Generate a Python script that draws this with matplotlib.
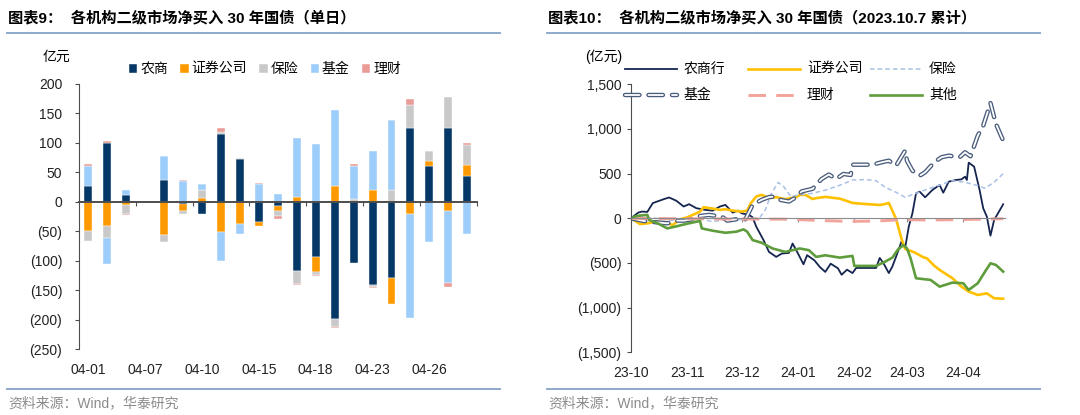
import matplotlib
matplotlib.use("Agg")
import matplotlib.pyplot as plt
import matplotlib.dates as mdates
import matplotlib.patheffects as pe
from matplotlib.lines import Line2D
from matplotlib.ticker import FuncFormatter
import numpy as np

plt.rcParams["font.family"] = ["Liberation Sans", "Noto Sans CJK SC"]

# --------------------------------------------------------------------------- #
# left panel: daily net buying by institution (100m CNY)
# --------------------------------------------------------------------------- #
days = ["04-01", "04-02", "04-03", "04-07", "04-08", "04-09", "04-10", "04-11",
        "04-12", "04-15", "04-16", "04-17", "04-18", "04-19", "04-22", "04-23",
        "04-24", "04-25", "04-26", "04-28", "04-29"]
bar_names = ["农商", "证券公司", "保险", "基金", "理财"]
d_nongshang = [26, 100, 12, 0, 36.5, -3, -20, 115, 73, -35, -7, -118, -93, -199,
               -104, -141.5, -129, 125, 60, 125, 44]
d_zhengquan = [-49, -41, -5, 0, -56, -12.7, 6, -50.5, -37, -6, -8.5, 8.5, -26, 26,
               0, 19.7, -45, -21, 10, -15, 18]
d_baoxian = [-17, -21, -16, 0, -11.5, -5.6, 13.5, 4, 2, 0, -9.5, -22, -4.5, -13,
             5.5, -3.5, 19.7, 38.5, 15.4, 53.5, 35]
d_jijin = [35, -43, 8, 0, 40.5, 35, 10.5, -49.5, -17, 30, 13, 99, 98, 130, 55,
           65.7, 119.5, -177, -68.5, -123.5, -55]
d_licai = [2.5, 3.5, -2, -1, 0, 1.5, 0, 6, 0, 2, -3.5, -1.5, -2, -2, 4, -2, 0,
           11.5, 1, -6, 3]
bar_colors = ["#053866", "#FF9900", "#C9C9C9", "#9DCDFA", "#EC9C96"]

# --------------------------------------------------------------------------- #
# right panel: cumulative net buying since 2023-10-07 (100m CNY)
# --------------------------------------------------------------------------- #
nsh_dates = ["2023-10-07", "2023-10-11", "2023-10-13", "2023-10-16", "2023-10-19",
             "2023-10-25", "2023-10-28", "2023-11-01", "2023-11-05", "2023-11-08",
             "2023-11-12", "2023-11-17", "2023-11-21", "2023-11-25", "2023-11-28",
             "2023-12-02", "2023-12-05", "2023-12-07", "2023-12-11", "2023-12-13",
             "2023-12-15", "2023-12-19", "2023-12-22", "2023-12-26", "2023-12-29",
             "2024-01-02", "2024-01-04", "2024-01-07", "2024-01-10", "2024-01-12",
             "2024-01-16", "2024-01-19", "2024-01-22", "2024-01-25", "2024-01-29",
             "2024-01-31", "2024-02-03", "2024-02-06", "2024-02-08", "2024-02-19",
             "2024-02-21", "2024-02-23", "2024-02-26", "2024-02-28", "2024-03-01",
             "2024-03-04", "2024-03-06", "2024-03-08", "2024-03-10", "2024-03-12",
             "2024-03-14", "2024-03-17", "2024-03-21", "2024-03-25", "2024-03-27",
             "2024-03-30", "2024-04-03", "2024-04-06", "2024-04-08", "2024-04-09",
             "2024-04-10", "2024-04-13", "2024-04-16", "2024-04-18", "2024-04-20",
             "2024-04-22", "2024-04-24", "2024-04-29"]
nsh_vals = [0, 64, 75, 72, 170, 214, 233, 196, 132, 158,
            113, 94, 86, 132, 150, 64, 86, 56, 38, 11,
            -94, -244, -376, -432, -395, -387, -282, -395, -515, -413,
            -470, -545, -600, -508, -560, -632, -575, -613, -556, -556,
            -444, -500, -613, -538, -430, -260, -330, -93, 56, 280,
            298, 235, 317, 373, 287, 410, 429, 436, 466, 429,
            623, 578, 317, 112, 19, -194, -19, 157]

zq_dates = ["2023-10-07", "2023-10-10", "2023-10-12", "2023-10-16", "2023-10-21",
            "2023-10-27", "2023-10-30", "2023-11-03", "2023-11-07", "2023-11-10",
            "2023-11-14", "2023-11-16", "2023-11-21", "2023-11-25", "2023-11-28",
            "2023-12-02", "2023-12-07", "2023-12-10", "2023-12-12", "2023-12-15",
            "2023-12-18", "2023-12-22", "2023-12-26", "2023-12-31", "2024-01-06",
            "2024-01-08", "2024-01-11", "2024-01-15", "2024-01-17", "2024-01-22",
            "2024-01-30", "2024-02-06", "2024-02-13", "2024-02-21", "2024-02-24",
            "2024-02-26", "2024-03-01", "2024-03-04", "2024-03-06", "2024-03-11",
            "2024-03-16", "2024-03-18", "2024-03-22", "2024-03-25", "2024-04-01",
            "2024-04-06", "2024-04-10", "2024-04-15", "2024-04-20", "2024-04-24",
            "2024-04-29"]
zq_vals = [0, -38, -65, -56, -38, -56, -75, -11, 11, 38,
           75, 124, 109, 94, 101, 86, 75, 86, 169, 244,
           263, 226, 237, 214, 237, 261, 263, 216, 226, 240,
           220, 172, 160, 149, 160, 172, -7, -231, -343, -380,
           -436, -448, -530, -578, -670, -765, -820, -858, -840, -895,
           -900]

bx_dates = ["2023-10-07", "2023-10-14", "2023-10-21", "2023-10-27", "2023-11-03",
            "2023-11-10", "2023-11-15", "2023-11-21", "2023-11-26", "2023-12-04",
            "2023-12-10", "2023-12-17", "2023-12-20", "2023-12-23", "2023-12-27",
            "2023-12-30", "2024-01-03", "2024-01-08", "2024-01-15", "2024-01-22",
            "2024-01-30", "2024-02-06", "2024-02-13", "2024-02-19", "2024-02-24",
            "2024-03-01", "2024-03-06", "2024-03-11", "2024-03-16", "2024-03-24",
            "2024-04-01", "2024-04-08", "2024-04-15", "2024-04-19", "2024-04-24",
            "2024-04-29"]
bx_vals = [0, 11, 0, -19, -26, -19, -8, -38, -19, -19,
           -8, 11, 94, 263, 402, 357, 244, 263, 280, 315,
           370, 429, 433, 421, 347, 291, 235, 272, 310, 366,
           421, 403, 366, 336, 403, 500]

jj_dates = ["2023-10-07", "2023-10-14", "2023-10-23", "2023-10-27", "2023-11-01",
            "2023-11-05", "2023-11-10", "2023-11-14", "2023-11-19", "2023-11-26",
            "2023-11-29", "2023-12-04", "2023-12-09", "2023-12-13", "2023-12-18",
            "2023-12-22", "2023-12-25", "2023-12-28", "2024-01-02", "2024-01-06",
            "2024-01-09", "2024-01-15", "2024-01-20", "2024-01-24", "2024-01-28",
            "2024-02-01", "2024-02-05", "2024-02-06", "2024-02-17", "2024-02-22",
            "2024-02-26", "2024-03-01", "2024-03-06", "2024-03-07", "2024-03-10",
            "2024-03-14", "2024-03-17", "2024-03-22", "2024-03-26", "2024-03-30",
            "2024-04-05", "2024-04-08", "2024-04-11", "2024-04-15", "2024-04-18",
            "2024-04-22", "2024-04-25", "2024-04-29"]
jj_vals = [0, -30, -49, -56, -26, -26, -11, 26, 38, 19,
           -26, -11, -11, 150, 207, 237, 244, 207, 188, 237,
           301, 330, 440, 490, 440, 496, 485, 600, 600, 627,
           645, 589, 757, 645, 533, 477, 515, 627, 683, 701,
           683, 739, 694, 925, 1037, 1290, 1056, 869]

lc_dates = ["2023-10-07", "2023-11-01", "2023-12-01", "2024-01-01", "2024-01-20",
            "2024-02-05", "2024-02-20", "2024-03-05", "2024-03-20", "2024-04-05",
            "2024-04-29"]
lc_vals = [0, -5, -8, -10, -25, -35, -30, -15, -20, -15, -5]

qt_dates = ["2023-10-07", "2023-10-10", "2023-10-16", "2023-10-17", "2023-10-21",
            "2023-10-27", "2023-11-01", "2023-11-07", "2023-11-14", "2023-11-15",
            "2023-11-21", "2023-11-28", "2023-12-04", "2023-12-08", "2023-12-10",
            "2023-12-13", "2023-12-18", "2023-12-24", "2023-12-31", "2024-01-08",
            "2024-01-13", "2024-01-17", "2024-01-22", "2024-01-30", "2024-02-06",
            "2024-02-07", "2024-02-19", "2024-02-24", "2024-02-28", "2024-03-02",
            "2024-03-05", "2024-03-07", "2024-03-09", "2024-03-12", "2024-03-20",
            "2024-03-25", "2024-04-01", "2024-04-07", "2024-04-10", "2024-04-15",
            "2024-04-19", "2024-04-22", "2024-04-25", "2024-04-29"]
qt_vals = [0, 26, 38, -19, -49, -113, -90, -60, -30, -113,
           -139, -162, -150, -124, -150, -244, -274, -338, -376, -338,
           -357, -432, -414, -440, -421, -533, -533, -485, -440, -350,
           -300, -336, -448, -671, -690, -765, -720, -727, -802, -727,
           -597, -504, -522, -597]

month_ticks = ["2023-10-07", "2023-11-07", "2023-12-07", "2024-01-07",
               "2024-02-07", "2024-03-07", "2024-04-07"]
month_labels = ["23-10", "23-11", "23-12", "24-01", "24-02", "24-03", "24-04"]
x_start, x_end = "2023-10-07", "2024-04-30"

GRID = "#4D4D4D"
RULE = "#8EA9CC"
W, H = 1080, 415


def fx(x):
    return x / W


def fy(y):
    return 1 - y / H


def paren(v, _pos=None):
    s = f"{abs(v):,.0f}"
    return f"({s})" if v < 0 else s


fig = plt.figure(figsize=(W / 100, H / 100), dpi=100)

# header / footer rules and texts
for x0, x1 in ((7, 500), (547, 1040)):
    for y in (33, 389):
        fig.add_artist(Line2D([fx(x0), fx(x1)], [fy(y), fy(y)], color=RULE, lw=1.4))
fig.text(fx(8), fy(18), "图表9：  各机构二级市场净买入 30 年国债（单日）",
         fontsize=11, fontweight="bold", va="center")
fig.text(fx(548), fy(18), "图表10：  各机构二级市场净买入 30 年国债（2023.10.7 累计）",
         fontsize=11, fontweight="bold", va="center")
for x0 in (8, 548):
    fig.text(fx(x0), fy(403), "资料来源：Wind，华泰研究", fontsize=10,
             color="#8C8C8C", va="center")

# ---- left: stacked bars --------------------------------------------------- #
ax1 = fig.add_axes([fx(79), fy(349), fx(476.7) - fx(79), fy(84) - fy(349)])
x = np.arange(len(days))
pos = np.zeros(len(days))
neg = np.zeros(len(days))
for name, vals, c in zip(bar_names,
                         [d_nongshang, d_zhengquan, d_baoxian, d_jijin, d_licai],
                         bar_colors):
    v = np.array(vals, dtype=float)
    bottom = np.where(v >= 0, pos, neg)
    ax1.bar(x, v, bottom=bottom, width=0.42, color=c, edgecolor="white",
            linewidth=0.3, label=name)
    pos += np.clip(v, 0, None)
    neg += np.clip(v, None, 0)

ax1.set_xlim(-0.5, len(days) - 0.5)
ax1.set_ylim(-250, 200)
ax1.set_yticks(np.arange(-250, 201, 50))
ax1.yaxis.set_major_formatter(FuncFormatter(paren))
for s in ("top", "right"):
    ax1.spines[s].set_visible(False)
ax1.spines["left"].set_color(GRID)
ax1.spines["bottom"].set_position(("data", 0))
ax1.spines["bottom"].set_color(GRID)
ax1.spines["bottom"].set_linewidth(1.4)
ax1.set_xticks(np.arange(2.5, len(days), 3))
ax1.set_xticklabels([])
ax1.tick_params(axis="x", direction="out", length=3, color=GRID)
ax1.tick_params(axis="y", direction="out", length=3, color=GRID, labelsize=10,
                pad=9, labelcolor="#222222")
sec1 = ax1.secondary_xaxis("bottom")
sec1.set_xticks(x[::3], labels=days[::3])
sec1.tick_params(length=0, pad=10, labelsize=10, labelcolor="#222222")
sec1.spines["bottom"].set_visible(False)

fig.text(fx(43), fy(57), "亿元", fontsize=10, va="center")
fig.legend(*ax1.get_legend_handles_labels(), loc="center left",
           bbox_to_anchor=(fx(122), fy(69)), ncol=5, frameon=False,
           fontsize=10, handlelength=0.6, handleheight=0.6,
           handletextpad=0.2, columnspacing=0.9, borderpad=0)

# ---- right: cumulative lines ---------------------------------------------- #
ax2 = fig.add_axes([fx(631), fy(352.3), fx(1005) - fx(631), fy(84.3) - fy(352.3)])
num = mdates.datestr2num

line_specs = [
    ("农商行", nsh_dates, nsh_vals, dict(color="#15254F", lw=1.3)),
    ("证券公司", zq_dates, zq_vals, dict(color="#FFC000", lw=1.9)),
    ("保险", bx_dates, bx_vals, dict(color="#A9C0E6", lw=1.1, dashes=(3, 2))),
    ("基金", jj_dates, jj_vals, dict(color="white", lw=1.3, dashes=(8, 5),
                                      dash_capstyle="round",
                                      path_effects=[pe.Stroke(linewidth=3.2, foreground="#4A5C7C"),
                                                    pe.Normal()])),
    ("理财", lc_dates, lc_vals, dict(color="#F2A39B", lw=2.1, dashes=(6, 3.5))),
    ("其他", qt_dates, qt_vals, dict(color="#5E9C3C", lw=1.9)),
]
for name, ds, vs, kw in line_specs:
    ax2.plot(num(ds), vs, **kw)

ax2.set_xlim(num(x_start), num(x_end))
ax2.set_ylim(-1500, 1500)
ax2.set_yticks(np.arange(-1500, 1501, 500))
ax2.yaxis.set_major_formatter(FuncFormatter(paren))
for s in ("top", "right"):
    ax2.spines[s].set_visible(False)
ax2.spines["left"].set_color(GRID)
ax2.spines["bottom"].set_position(("data", 0))
ax2.spines["bottom"].set_color("#8C8C8C")
ax2.set_xticks(num(month_ticks))
ax2.set_xticklabels([])
ax2.tick_params(axis="x", direction="out", length=3, color="#8C8C8C")
ax2.tick_params(axis="y", direction="out", length=3, color=GRID, labelsize=10,
                pad=4, labelcolor="#222222")
sec2 = ax2.secondary_xaxis("bottom")
sec2.set_xticks(num(month_ticks), labels=month_labels)
sec2.tick_params(length=0, pad=10, labelsize=10, labelcolor="#222222")
sec2.spines["bottom"].set_visible(False)

fig.text(fx(585), fy(57), "(亿元)", fontsize=10, va="center")

# manual 2x3 legend to match the original spacing
leg_pos = [(625, 69), (748, 69), (870, 69), (625, 95), (748, 95), (870, 95)]
order = ["农商行", "证券公司", "保险", "基金", "理财", "其他"]
spec_by_name = {n: kw for n, _, _, kw in line_specs}
for name, (lx, ly) in zip(order, leg_pos):
    kw = dict(spec_by_name[name])
    fig.add_artist(Line2D([fx(lx), fx(lx + 52)], [fy(ly), fy(ly)],
                          transform=fig.transFigure, **kw))
    fig.text(fx(lx + 59), fy(ly), name, fontsize=10, va="center")

fig.savefig("out.png", dpi=100)
